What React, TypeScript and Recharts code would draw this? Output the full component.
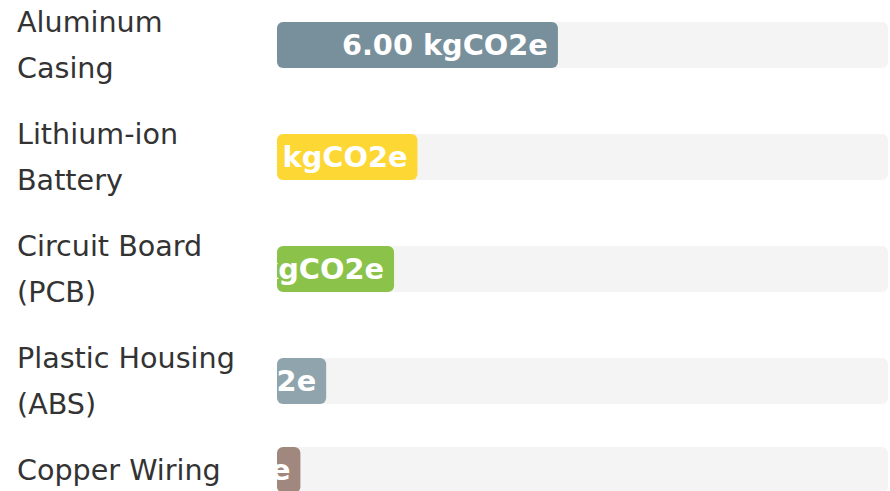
import { BarChart, Bar, XAxis, YAxis, LabelList, Cell } from "recharts";

const MATERIALS = [
  "Aluminum Casing",
  "Lithium-ion Battery",
  "Circuit Board (PCB)",
  "Plastic Housing (ABS)",
  "Copper Wiring",
];
const EMISSIONS = [6.0, 3.0, 2.5, 1.05, 0.5];
const BAR_COLORS = ["#78909c", "#fdd835", "#8bc34a", "#90a4ae", "#a1887f"];
const UNIT = "kgCO2e";

const TOTAL = EMISSIONS.reduce((a, b) => a + b, 0);
const FONT = "'DejaVu Sans', sans-serif";

function ClippedLabel(props: any) {
  const { x, y, width, height, value, clipId } = props;
  return (
    <g>
      <defs>
        <clipPath id={clipId}>
          <rect x={x} y={y} width={width} height={height} rx={6} ry={6} />
        </clipPath>
      </defs>
      <text
        x={x + width - 10}
        y={y + height / 2}
        textAnchor="end"
        dominantBaseline="central"
        fill="#fff"
        fontFamily={FONT}
        fontWeight="bold"
        fontSize={28.8}
        clipPath={`url(#${clipId})`}
      >
        {`${Number(value).toFixed(2)} ${UNIT}`}
      </text>
    </g>
  );
}

function Row({ i }: { i: number }) {
  const data = [{ name: MATERIALS[i], value: EMISSIONS[i] }];
  return (
    <div style={{ display: "flex", alignItems: "center" }}>
      <div
        style={{
          width: 243,
          marginLeft: 17,
          marginRight: 17,
          fontSize: 28.6,
          lineHeight: "46px",
          color: "#333",
          fontFamily: FONT,
        }}
      >
        {MATERIALS[i]}
      </div>
      <BarChart
        width={611}
        height={46}
        data={data}
        layout="vertical"
        margin={{ top: 0, right: 0, bottom: 0, left: 0 }}
        barCategoryGap={0}
      >
        <XAxis type="number" domain={[0, TOTAL]} hide />
        <YAxis type="category" dataKey="name" hide />
        <Bar
          dataKey="value"
          isAnimationActive={false}
          radius={6}
          background={{ fill: "#f4f4f4", radius: 6 }}
        >
          <Cell fill={BAR_COLORS[i]} />
          <LabelList
            dataKey="value"
            content={(p: any) => <ClippedLabel {...p} clipId={`clip-${i}`} />}
          />
        </Bar>
      </BarChart>
    </div>
  );
}

export default function App() {
  return (
    <div
      style={{
        position: "absolute",
        left: 0,
        top: -1,
        width: 890,
        display: "flex",
        flexDirection: "column",
        gap: 20,
        background: "#fff",
      }}
    >
      {MATERIALS.map((_, i) => (
        <Row key={i} i={i} />
      ))}
    </div>
  );
}
